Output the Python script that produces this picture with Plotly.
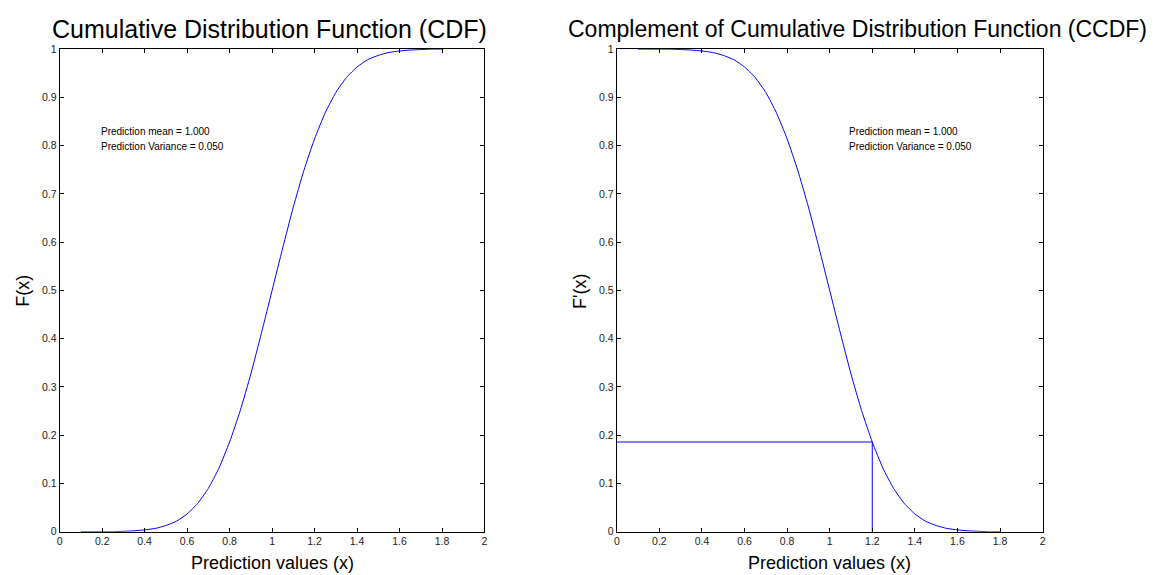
import plotly.graph_objects as go

# Values
x_vals = [0.10, 0.15, 0.20, 0.25, 0.30, 0.35, 0.40, 0.45, 0.50, 0.55, 0.60, 0.65,
          0.70, 0.75, 0.80, 0.85, 0.90, 0.95, 1.00, 1.05, 1.10, 1.15, 1.20, 1.25,
          1.30, 1.35, 1.40, 1.45, 1.50, 1.55, 1.60, 1.65, 1.70, 1.75, 1.80]
cdf_vals = [0.000, 0.000, 0.000, 0.000, 0.001, 0.002, 0.004, 0.007, 0.013, 0.022,
            0.037, 0.059, 0.090, 0.132, 0.186, 0.251, 0.327, 0.412, 0.500, 0.588,
            0.673, 0.749, 0.814, 0.868, 0.910, 0.941, 0.963, 0.978, 0.987, 0.993,
            0.996, 0.998, 0.999, 1.000, 1.000]
ccdf_vals = [1.000, 1.000, 1.000, 1.000, 0.999, 0.998, 0.996, 0.993, 0.987, 0.978,
             0.963, 0.941, 0.910, 0.868, 0.814, 0.749, 0.673, 0.588, 0.500, 0.412,
             0.327, 0.251, 0.186, 0.132, 0.090, 0.059, 0.037, 0.022, 0.013, 0.007,
             0.004, 0.002, 0.001, 0.000, 0.000]
marker_x = [0.0, 1.2, 1.2]
marker_y = [0.186, 0.186, 0.0]

x_ticks = [0, 0.2, 0.4, 0.6, 0.8, 1, 1.2, 1.4, 1.6, 1.8, 2]
x_tick_text = ["0", "0.2", "0.4", "0.6", "0.8", "1", "1.2", "1.4", "1.6", "1.8", "2"]
y_ticks = [0, 0.1, 0.2, 0.3, 0.4, 0.5, 0.6, 0.7, 0.8, 0.9, 1]
y_tick_text = ["0", "0.1", "0.2", "0.3", "0.4", "0.5", "0.6", "0.7", "0.8", "0.9", "1"]
info_lines = ["Prediction mean = 1.000", "Prediction Variance = 0.050"]

W, H = 1157, 575
FONT = "Liberation Sans, Arial, sans-serif"
BLUE = "#0000ff"

def px_x(p):
    return p / W

def px_y(p):
    return 1 - p / H

fig = go.Figure()
fig.add_trace(go.Scatter(x=x_vals, y=cdf_vals, mode="lines", line=dict(color=BLUE, width=1, shape="spline", smoothing=0.5),
                         xaxis="x", yaxis="y", showlegend=False))
fig.add_trace(go.Scatter(x=x_vals, y=ccdf_vals, mode="lines", line=dict(color=BLUE, width=1, shape="spline", smoothing=0.5),
                         xaxis="x2", yaxis="y2", showlegend=False))
fig.add_trace(go.Scatter(x=marker_x, y=marker_y, mode="lines", line=dict(color=BLUE, width=1),
                         xaxis="x2", yaxis="y2", showlegend=False))

axis_common = dict(
    range=[0, 2], tickvals=x_ticks, ticktext=x_tick_text, ticks="inside", ticklen=4,
    tickcolor="black", showline=True, linecolor="black", linewidth=1, mirror="ticks",
    showgrid=False, zeroline=False, tickfont=dict(family=FONT, size=10.5, color="#222"),
)
yaxis_common = dict(
    range=[0, 1], tickvals=y_ticks, ticktext=y_tick_text, ticks="inside", ticklen=4,
    tickcolor="black", showline=True, linecolor="black", linewidth=1, mirror="ticks",
    showgrid=False, zeroline=False, tickfont=dict(family=FONT, size=10.5, color="#222"),
)

L1, R1, L2, R2 = 57, 484, 617, 1045
TOP, BOT = 44, 537

fig.update_layout(
    width=W, height=H, margin=dict(l=0, r=0, t=0, b=0),
    paper_bgcolor="white", plot_bgcolor="white",
    xaxis=dict(domain=[px_x(L1), px_x(R1)], anchor="y", **axis_common),
    yaxis=dict(domain=[px_y(BOT), px_y(TOP)], anchor="x", **yaxis_common),
    xaxis2=dict(domain=[px_x(L2), px_x(R2)], anchor="y2", **axis_common),
    yaxis2=dict(domain=[px_y(BOT), px_y(TOP)], anchor="x2", **yaxis_common),
    font=dict(family=FONT, color="black"),
)

ann = []
# Titles
ann.append(dict(text="Cumulative Distribution Function (CDF)", x=px_x(268), y=px_y(23), xref="paper", yref="paper",
                showarrow=False, xanchor="center", yanchor="middle", font=dict(size=25, family=FONT)))
ann.append(dict(text="Complement of Cumulative Distribution Function (CCDF)", x=px_x(859), y=px_y(23), xref="paper", yref="paper",
                showarrow=False, xanchor="center", yanchor="middle", font=dict(size=23, family=FONT)))
# X labels
for cx in [(L1 + R1) / 2, (L2 + R2) / 2]:
    ann.append(dict(text="Prediction values (x)", x=px_x(cx), y=px_y(566), xref="paper", yref="paper",
                    showarrow=False, xanchor="center", yanchor="middle", yshift=-3, font=dict(size=18, family=FONT)))
# Y labels
ann.append(dict(text="F(x)", x=px_x(20), y=px_y(291), xref="paper", yref="paper", textangle=-90,
                showarrow=False, xanchor="center", yanchor="middle", font=dict(size=18, family=FONT)))
ann.append(dict(text="F'(x)", x=px_x(580), y=px_y(291), xref="paper", yref="paper", textangle=-90,
                showarrow=False, xanchor="center", yanchor="middle", font=dict(size=18, family=FONT)))
# Info text
for xr, yr, x0 in [("x", "y", 0.2), ("x2", "y2", 1.095)]:
    for line, yv in zip(info_lines, [0.830, 0.799]):
        ann.append(dict(text=line, x=x0, y=yv, xref=xr, yref=yr, showarrow=False, xanchor="left",
                        yanchor="middle", xshift=-3, font=dict(size=10, family=FONT)))
fig.update_layout(annotations=ann)

fig.write_html("out.html")
